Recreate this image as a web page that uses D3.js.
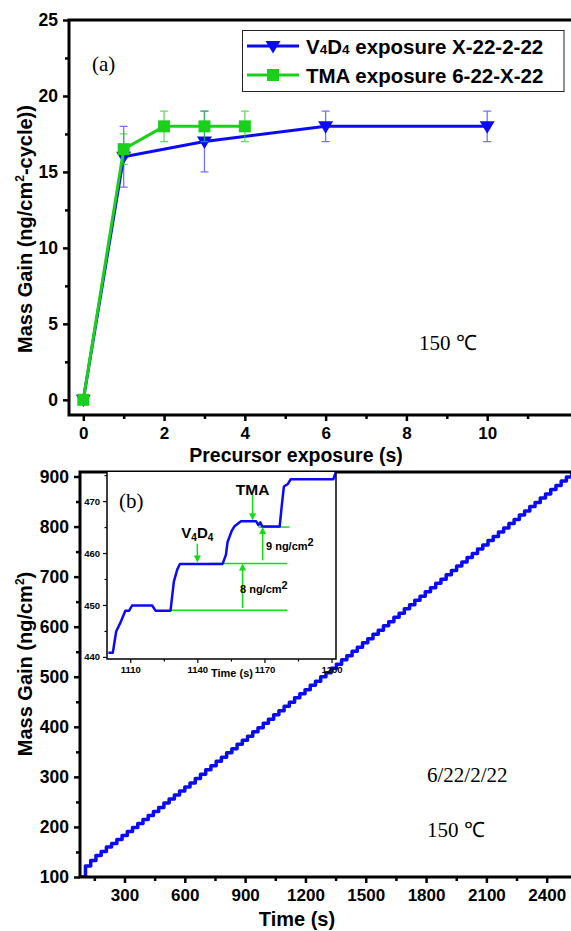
<!DOCTYPE html>
<html><head><meta charset="utf-8">
<script src="https://cdn.jsdelivr.net/npm/d3@7"></script>
<style>
html,body{margin:0;padding:0;background:#fff;}
svg{display:block;}
text{font-family:"Liberation Sans",Arial,sans-serif;}
.serif{font-family:"Liberation Serif","Times New Roman",serif;}
</style></head>
<body>
<script>
// ---------- DATA: panel (a) ----------
const topXTicks = [0, 2, 4, 6, 8, 10];
const topXMinor = [1, 3, 5, 7, 9, 11];
const topYTicks = [0, 5, 10, 15, 20, 25];
const topYMinor = [2.5, 7.5, 12.5, 17.5, 22.5];
const v4d4X = [0, 1, 3, 6, 10];
const v4d4Y = [0, 16, 17, 18, 18];
const v4d4Err = [0, 2, 2, 1, 1];
const tmaX = [0, 1, 2, 3, 4];
const tmaY = [0, 16.5, 18, 18, 18];
const tmaErr = [0, 1, 1, 1, 1];
const legendLabels = ["V4D4 exposure X-22-2-22", "TMA exposure 6-22-X-22"];

// ---------- DATA: panel (b) main ----------
const botXTicks = [300, 600, 900, 1200, 1500, 1800, 2100, 2400];
const botXMinor = [150, 450, 750, 1050, 1350, 1650, 1950, 2250];
const botYTicks = [100, 200, 300, 400, 500, 600, 700, 800, 900];
const botYMinor = [150, 250, 350, 450, 550, 650, 750, 850];
const mainTime = [79, 106, 132, 158, 184, 210, 236, 262, 288, 314, 340, 366, 392, 418, 444, 470, 496, 522, 548, 574,
  600, 626, 652, 678, 704, 730, 756, 782, 808, 834, 860, 886, 912, 938, 964, 990, 1016, 1042, 1068, 1094,
  1120, 1146, 1172, 1198, 1224, 1250, 1276, 1302, 1328, 1354, 1380, 1406, 1432, 1458, 1484, 1510, 1536, 1562, 1588, 1614,
  1640, 1666, 1692, 1718, 1744, 1770, 1796, 1822, 1848, 1874, 1900, 1926, 1952, 1978, 2004, 2030, 2056, 2082, 2108, 2134,
  2160, 2186, 2212, 2238, 2264, 2290, 2316, 2342, 2368, 2394, 2420, 2446, 2472, 2498, 2524];
const mainMass = [100, 122, 133, 143, 151, 160, 167, 175, 183, 191, 199, 207, 215, 223, 231, 239, 248, 256, 264, 272,
  280, 288, 297, 305, 314, 322, 331, 339, 348, 356, 365, 373, 381, 390, 398, 407, 415, 424, 432, 441,
  449, 458, 466, 474, 483, 491, 500, 508, 517, 525, 534, 542, 551, 559, 568, 576, 585, 593, 602, 610,
  619, 627, 636, 644, 653, 661, 670, 678, 687, 695, 704, 712, 721, 729, 738, 746, 755, 763, 772, 780,
  789, 797, 806, 814, 823, 831, 840, 848, 857, 865, 874, 882, 891, 899, 908];

// ---------- DATA: inset ----------
const insetXTicks = [1110, 1140, 1170, 1200];
const insetXMinor = [1125, 1155, 1185];
const insetYTicks = [440, 450, 460, 470];
const insetYMinor = [445, 455, 465, 475];
const insetTime = [1100.2, 1102.2, 1103.7, 1105.5, 1107.8, 1109.5, 1110.8, 1119.8, 1121.3, 1128, 1129.5, 1131, 1132.2,
  1151.3, 1152.8, 1153.5, 1155.3, 1156.5, 1159.5, 1166.3, 1167.3, 1168.2, 1169, 1176.8, 1177.8, 1178.7, 1180.5,
  1181.7, 1200.8, 1201.8, 1202.6];
const insetMass = [440.8, 440.8, 444.9, 446.5, 448.9, 448.9, 449.9, 449.9, 448.9, 448.9, 454.5, 456.8, 457.9,
  457.9, 459.7, 462.1, 464.2, 465.1, 466.1, 466.1, 465.4, 465.9, 465.1, 465.1, 469.3, 472.8, 473.3,
  474.2, 474.2, 475.4, 477];
const levelMass = [449, 458, 465];
const levelStart = [1128, 1145.3, 1167.3];
const levelEnd = [1180.2, 1180.2, 1181.2];
const downArrowT = [1140, 1164.7];
const downArrowFrom = [461.8, 471.2];
const downArrowTo = [458.2, 466.3];
const upArrowT = [1160.2, 1169.2];
const upArrowFrom = [449.4, 458.6];
const upArrowTo = [458, 465];
const upArrowLabels = ["8 ng/cm", "9 ng/cm"];

// ---------- DRAW ----------
const W = 571, H = 931;
const BLUE = "#0a0af5", GREEN = "#1bd01b", IGREEN = "#11dd11";
const svg = d3.select("body").append("svg").attr("width", W).attr("height", H);
const fmt = d3.format("d");

function styleAxis(g, fs) {
  g.select(".domain").remove();
  g.selectAll(".tick line").attr("stroke", "#000").attr("stroke-width", fs > 11 ? 2.5 : 1.2);
  g.selectAll(".tick text").attr("fill", "#000").style("font-size", fs + "px").style("font-weight", "bold")
    .style("font-family", "'Liberation Sans', Arial, sans-serif");
}

// ===== Panel (a) =====
const xA = d3.scaleLinear().domain([-0.354, 12.1]).range([69, 572]);
const yA = d3.scaleLinear().domain([-1, 25]).range([415, 20]);

svg.append("g").attr("transform", "translate(0,415)")
  .call(d3.axisBottom(xA).tickValues(topXTicks).tickSize(6).tickSizeOuter(0).tickPadding(6).tickFormat(fmt))
  .call(g => styleAxis(g, 17));
svg.append("g").attr("transform", "translate(0,415)")
  .call(d3.axisBottom(xA).tickValues(topXMinor).tickSize(4).tickSizeOuter(0).tickFormat(""))
  .call(g => styleAxis(g, 17));
svg.append("g").attr("transform", "translate(69,0)")
  .call(d3.axisLeft(yA).tickValues(topYTicks).tickSize(6).tickSizeOuter(0).tickPadding(5).tickFormat(fmt))
  .call(g => styleAxis(g, 17.5));
svg.append("g").attr("transform", "translate(69,0)")
  .call(d3.axisLeft(yA).tickValues(topYMinor).tickSize(4).tickSizeOuter(0).tickFormat(""))
  .call(g => styleAxis(g, 17));

// frame
svg.append("path").attr("d", `M69,${yA(25)}H572 M69,${yA(25) - 1.5}V${yA(-1) + 1.5} M67.5,${yA(-1)}H572`)
  .attr("stroke", "#000").attr("stroke-width", 3).attr("fill", "none");

function series(xs, ys, errs, color, errColor, marker) {
  const pts = xs.map((x, i) => ({x, y: ys[i], e: errs[i]}));
  const gE = svg.append("g");
  pts.filter(p => p.e > 0).forEach(p => {
    const cx = xA(p.x);
    gE.append("path")
      .attr("d", `M${cx},${yA(p.y - p.e)}V${yA(p.y + p.e)} M${cx - 4},${yA(p.y - p.e)}H${cx + 4} M${cx - 4},${yA(p.y + p.e)}H${cx + 4}`)
      .attr("stroke", errColor).attr("stroke-width", 1.3).attr("fill", "none");
  });
  svg.append("path").datum(pts)
    .attr("d", d3.line().x(p => xA(p.x)).y(p => yA(p.y)))
    .attr("stroke", color).attr("stroke-width", 3).attr("fill", "none");
  svg.append("g").selectAll("path").data(pts).join("path")
    .attr("transform", p => `translate(${xA(p.x)},${yA(p.y)})`)
    .attr("d", marker).attr("fill", color);
}
const triDown = "M-7.5,-5 L7.5,-5 L0,7.5 Z";
const square = "M-6,-6 H6 V6 H-6 Z";
series(v4d4X, v4d4Y, v4d4Err, BLUE, "rgba(40,40,255,0.65)", triDown);
series(tmaX, tmaY, tmaErr, GREEN, "rgba(40,200,40,0.7)", square);

// legend
const lg = svg.append("g");
lg.append("rect").attr("x", 242.5).attr("y", 30.5).attr("width", 321.5).attr("height", 61)
  .attr("fill", "#fff").attr("stroke", "#222").attr("stroke-width", 1);
const legendItems = [{label: legendLabels[0], color: BLUE, m: triDown}, {label: legendLabels[1], color: GREEN, m: square}];
legendItems.forEach((it, i) => {
  const cy = 46 + i * 29;
  lg.append("line").attr("x1", 247).attr("x2", 299).attr("y1", cy).attr("y2", cy).attr("stroke", it.color).attr("stroke-width", 3);
  lg.append("path").attr("transform", `translate(273,${cy})`).attr("d", it.m).attr("fill", it.color);
  const t = lg.append("text").attr("x", 306).attr("y", cy + 7.5).style("font-size", "20.5px").style("font-weight", "bold");
  if (i === 0) {
    t.append("tspan").text("V");
    t.append("tspan").text("4").style("font-size", "13.5px");
    t.append("tspan").text("D");
    t.append("tspan").text("4").style("font-size", "13.5px");
    t.append("tspan").text(it.label.slice(4));
  } else {
    t.text(it.label);
  }
});

svg.append("text").attr("class", "serif").attr("x", 92).attr("y", 71).style("font-size", "21px").text("(a)");
svg.append("text").attr("class", "serif").attr("x", 419).attr("y", 350).style("font-size", "21px").text("150 \u2103");

// axis titles
const ytA = svg.append("text").attr("transform", "translate(32,229) rotate(-90)").attr("text-anchor", "middle")
  .style("font-size", "20px").style("font-weight", "bold");
ytA.append("tspan").text("Mass Gain (ng/cm");
ytA.append("tspan").text("2").style("font-size", "12px").attr("dy", -8);
ytA.append("tspan").text("-cycle))").attr("dy", 8);
svg.append("text").attr("x", 296).attr("y", 462).attr("text-anchor", "middle")
  .style("font-size", "19.5px").style("font-weight", "bold").text("Precursor exposure (s)");

// ===== Panel (b) =====
const xB = d3.scaleLinear().domain([78.7, 2525.8]).range([80, 572]);
const yB = d3.scaleLinear().domain([100, 909]).range([877, 472]);

svg.append("g").attr("transform", "translate(0,877)")
  .call(d3.axisBottom(xB).tickValues(botXTicks).tickSize(6).tickSizeOuter(0).tickPadding(6).tickFormat(fmt))
  .call(g => styleAxis(g, 17));
svg.append("g").attr("transform", "translate(0,877)")
  .call(d3.axisBottom(xB).tickValues(botXMinor).tickSize(4).tickSizeOuter(0).tickFormat(""))
  .call(g => styleAxis(g, 17));
svg.append("g").attr("transform", "translate(80,0)")
  .call(d3.axisLeft(yB).tickValues(botYTicks).tickSize(6).tickSizeOuter(0).tickPadding(5).tickFormat(fmt))
  .call(g => styleAxis(g, 17.5));
svg.append("g").attr("transform", "translate(80,0)")
  .call(d3.axisLeft(yB).tickValues(botYMinor).tickSize(4).tickSizeOuter(0).tickFormat(""))
  .call(g => styleAxis(g, 17));

svg.append("defs").append("clipPath").attr("id", "clipB").append("rect")
  .attr("x", 80).attr("y", 472).attr("width", 492).attr("height", 405);
svg.append("path").datum(mainTime.map((t, i) => [t, mainMass[i]]))
  .attr("clip-path", "url(#clipB)")
  .attr("d", d3.line().x(d => xB(d[0])).y(d => yB(d[1])).curve(d3.curveStepAfter))
  .attr("stroke", BLUE).attr("stroke-width", 3.5).attr("fill", "none").attr("stroke-linejoin", "round");

svg.append("path").attr("d", `M80,472H572 M80,470.5V878.5 M78.5,877H572`)
  .attr("stroke", "#000").attr("stroke-width", 3).attr("fill", "none");

svg.append("text").attr("class", "serif").attr("x", 427).attr("y", 782).style("font-size", "21px").text("6/22/2/22");
svg.append("text").attr("class", "serif").attr("x", 427).attr("y", 837).style("font-size", "21px").text("150 \u2103");

const ytB = svg.append("text").attr("transform", "translate(32,664) rotate(-90)").attr("text-anchor", "middle")
  .style("font-size", "20px").style("font-weight", "bold");
ytB.append("tspan").text("Mass Gain (ng/cm");
ytB.append("tspan").text("2").style("font-size", "12px").attr("dy", -8);
ytB.append("tspan").text(")").attr("dy", 8);
svg.append("text").attr("x", 297).attr("y", 926).attr("text-anchor", "middle")
  .style("font-size", "20px").style("font-weight", "bold").text("Time (s)");

// ===== Inset =====
const xI = d3.scaleLinear().domain([1099.6, 1202]).range([107, 336]);
const yI = d3.scaleLinear().domain([439.6, 475.6]).range([659, 472]);
svg.append("rect").attr("x", 107).attr("y", 472).attr("width", 229).attr("height", 187).attr("fill", "#fff");

svg.append("g").attr("transform", "translate(0,659)")
  .call(d3.axisBottom(xI).tickValues(insetXTicks).tickSize(4).tickSizeOuter(0).tickPadding(3).tickFormat(fmt))
  .call(g => styleAxis(g, 9.5));
svg.append("g").attr("transform", "translate(0,659)")
  .call(d3.axisBottom(xI).tickValues(insetXMinor).tickSize(2.5).tickSizeOuter(0).tickFormat(""))
  .call(g => styleAxis(g, 9.5));
svg.append("g").attr("transform", "translate(107,0)")
  .call(d3.axisLeft(yI).tickValues(insetYTicks).tickSize(4).tickSizeOuter(0).tickPadding(3).tickFormat(fmt))
  .call(g => styleAxis(g, 9.5));
svg.append("g").attr("transform", "translate(107,0)")
  .call(d3.axisLeft(yI).tickValues(insetYMinor).tickSize(2.5).tickSizeOuter(0).tickFormat(""))
  .call(g => styleAxis(g, 9.5));

svg.select("defs").append("clipPath").attr("id", "clipI").append("rect")
  .attr("x", 107).attr("y", 472).attr("width", 229).attr("height", 187);

// green reference levels
levelMass.forEach((m, i) => {
  svg.append("line").attr("x1", xI(levelStart[i])).attr("x2", xI(levelEnd[i]))
    .attr("y1", yI(m)).attr("y2", yI(m)).attr("stroke", IGREEN).attr("stroke-width", 1.5);
});

svg.append("path").datum(insetTime.map((t, i) => [t, insetMass[i]]))
  .attr("clip-path", "url(#clipI)")
  .attr("d", d3.line().x(d => xI(d[0])).y(d => yI(d[1])))
  .attr("stroke", BLUE).attr("stroke-width", 2.5).attr("fill", "none").attr("stroke-linejoin", "round");

function arrow(t, from, to) {
  const x = xI(t), y0 = yI(from), y1 = yI(to);
  const dir = y1 > y0 ? 1 : -1;
  svg.append("line").attr("x1", x).attr("x2", x).attr("y1", y0).attr("y2", y1 - dir * 5)
    .attr("stroke", IGREEN).attr("stroke-width", 1.5);
  svg.append("path").attr("d", `M${x - 3.5},${y1 - dir * 7}L${x + 3.5},${y1 - dir * 7}L${x},${y1}Z`).attr("fill", IGREEN);
}
downArrowT.forEach((t, i) => arrow(t, downArrowFrom[i], downArrowTo[i]));
upArrowT.forEach((t, i) => arrow(t, upArrowFrom[i], upArrowTo[i]));

svg.append("path").attr("d", "M107,472V659H336V472").attr("stroke", "#000").attr("stroke-width", 1.5).attr("fill", "none");

// inset texts
const vt = svg.append("text").attr("x", xI(downArrowT[0])).attr("y", 538).attr("text-anchor", "middle")
  .style("font-size", "15px").style("font-weight", "bold");
vt.append("tspan").text("V");
vt.append("tspan").text("4").style("font-size", "10px").attr("dy", 3);
vt.append("tspan").text("D").attr("dy", -3);
vt.append("tspan").text("4").style("font-size", "10px").attr("dy", 3);
svg.append("text").attr("x", xI(downArrowT[1])).attr("y", 495).attr("text-anchor", "middle")
  .style("font-size", "15.5px").style("font-weight", "bold").text("TMA");
const upLabelPos = [[240, 593], [266, 550]];
upArrowLabels.forEach((l, i) => {
  const t = svg.append("text").attr("x", upLabelPos[i][0]).attr("y", upLabelPos[i][1])
    .style("font-size", "11px").style("font-weight", "bold");
  t.append("tspan").text(l);
  t.append("tspan").text("2").attr("dy", -4).style("font-size", "11px");
});
svg.append("text").attr("class", "serif").attr("x", 119).attr("y", 508).style("font-size", "21px").text("(b)");
svg.append("text").attr("x", 232).attr("y", 677).attr("text-anchor", "middle")
  .style("font-size", "11px").style("font-weight", "bold").text("Time (s)");
</script>
</body></html>
